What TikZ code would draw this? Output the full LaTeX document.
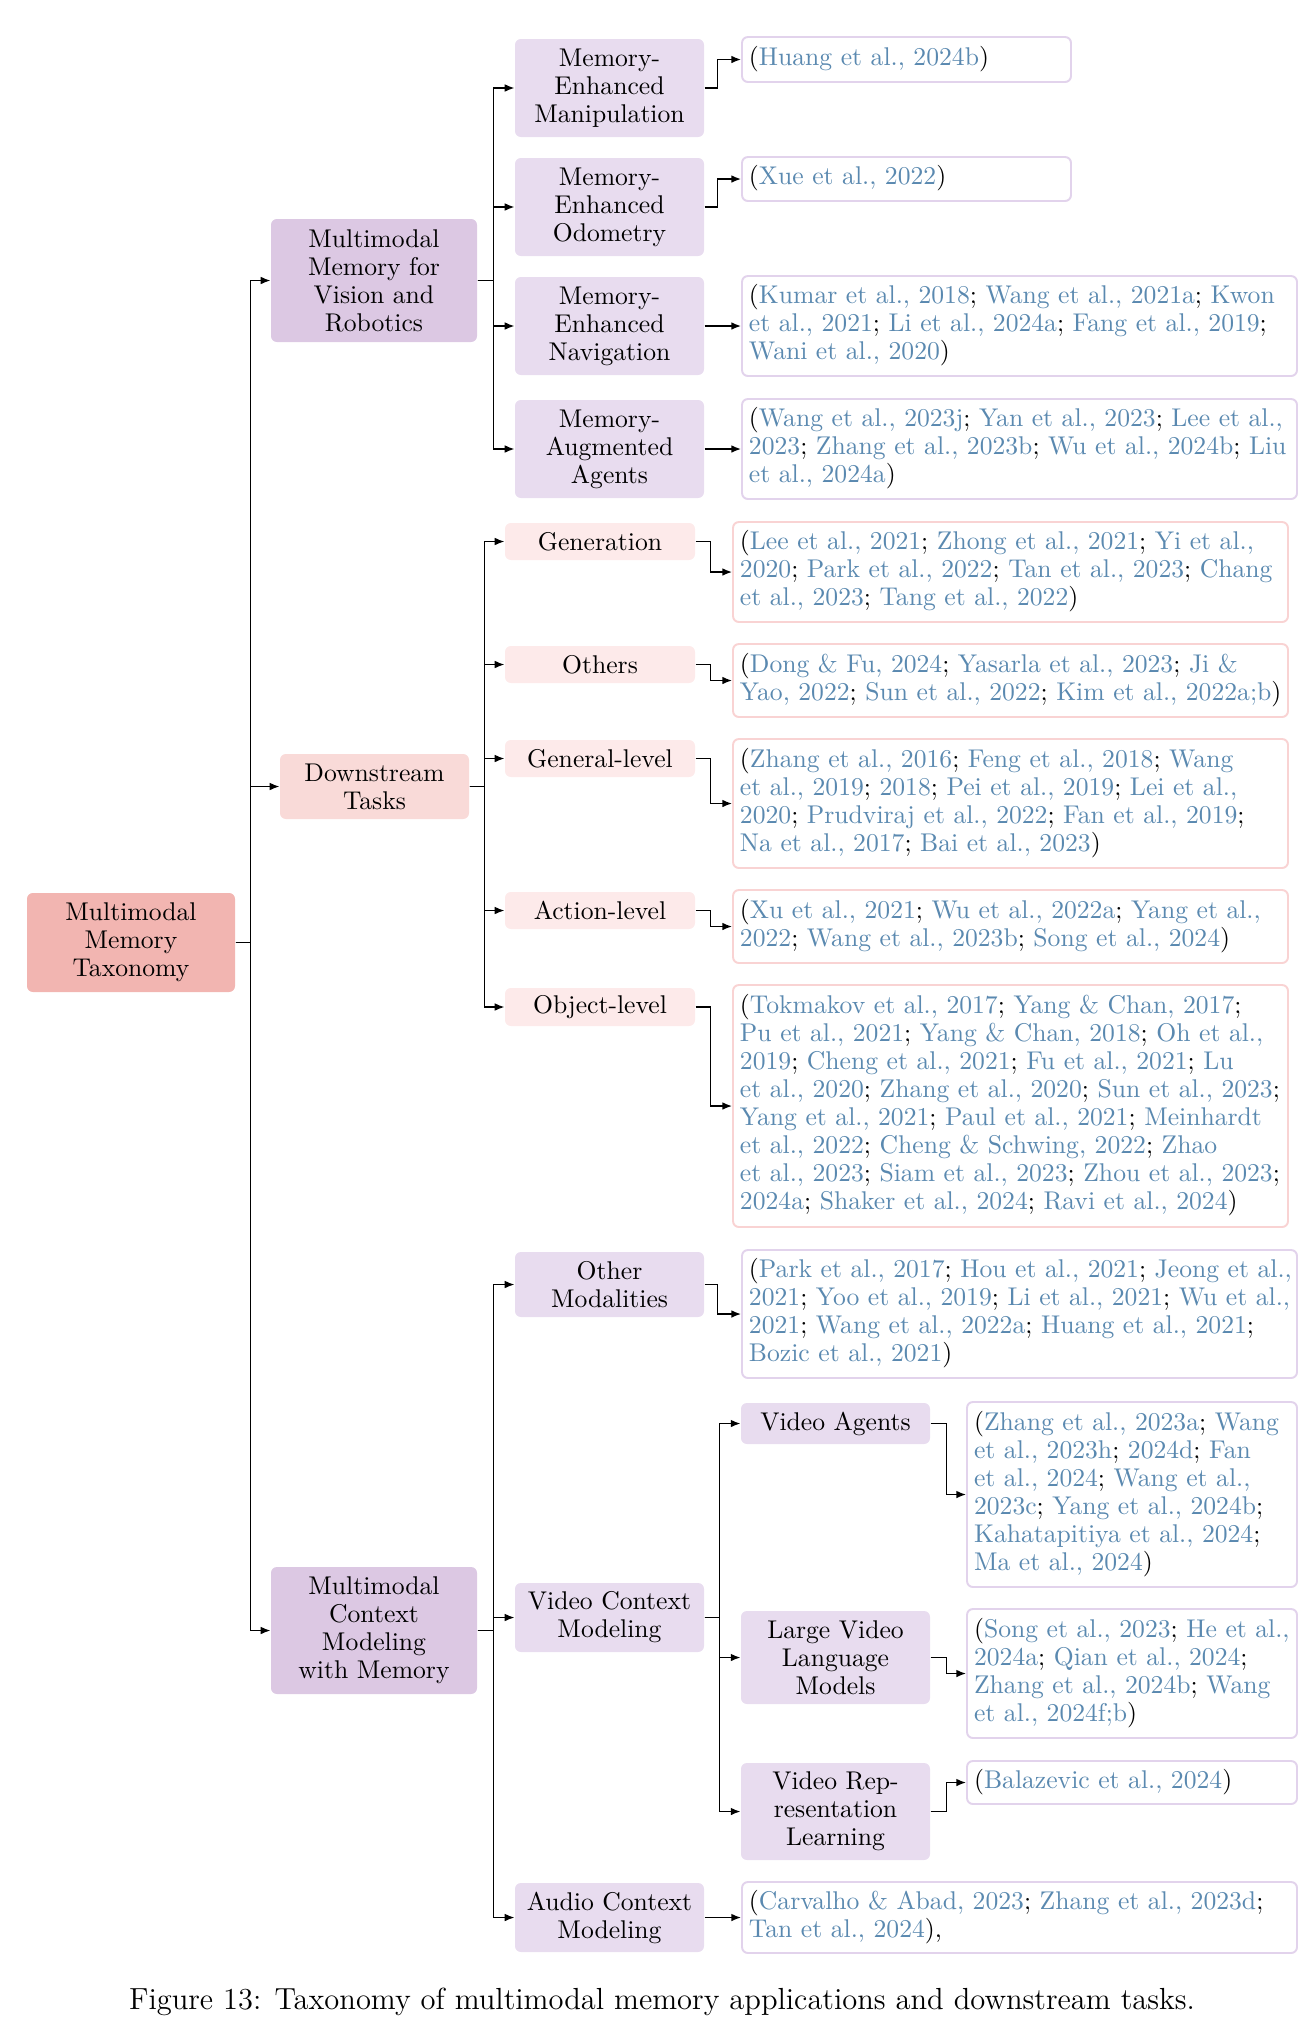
\documentclass[tikz,border=0pt]{standalone}
\usetikzlibrary{arrows.meta}
\definecolor{rootc}{HTML}{F2B5B1}
\definecolor{lonep}{HTML}{DCC8E3}
\definecolor{ltwop}{HTML}{E8DCEF}
\definecolor{loner}{HTML}{F9DAD8}
\definecolor{ltwor}{HTML}{FDEAEA}
\definecolor{refpb}{HTML}{E2D3EC}
\definecolor{refrb}{HTML}{F9D3D3}
\definecolor{citeb}{HTML}{5A89B0}
\newcommand\nodefont{\fontsize{10}{10.92}\selectfont}
\newcommand\capfont{\fontsize{11.9}{14}\selectfont}
\newcommand\cb[1]{\textcolor{citeb}{#1}}
\newcommand\rl[1]{\begin{tabular}{@{}l@{}}#1\end{tabular}}
\begin{document}
\begin{tikzpicture}[x=0.39pt,y=-0.39pt,
  bx/.style args={#1,#2,#3,#4}{minimum width={(#3-#1)*0.39pt}, minimum height={(#4-#2)*0.39pt}, at={({(#1+#3)/2},{(#2+#4)/2})}},
  base/.style={rounded corners=2.3pt, inner sep=0pt, font=\nodefont, align=center},
  rootbox/.style={base, fill=rootc},
  lonepbox/.style={base, fill=lonep},
  ltwopbox/.style={base, fill=ltwop},
  lonerbox/.style={base, fill=loner},
  ltworbox/.style={base, fill=ltwor},
  refp/.style={base, draw=refpb, line width=0.75pt, fill=white, align=left, text width=#1},
  refr/.style={base, draw=refrb, line width=0.75pt, fill=white, align=left, text width=#1},
  arr/.style={-{Latex[length=3.8pt,width=3pt]}, line width=0.55pt, black},
  capbox/.style={inner sep=0pt, font=\capfont}]
\useasboundingbox (0,0) rectangle (1316,2032);

% root and level 1
\node[rootbox, bx={27,893,235,992}] (root) {Multimodal\\Memory\\Taxonomy};
\node[lonepbox, bx={271,219,477,342}] (vis) {Multimodal\\Memory for\\Vision and\\Robotics};
\node[lonerbox, bx={280,754,469,819}] (down) {Downstream\\Tasks};
\node[lonepbox, bx={271,1567,477,1694}] (ctx) {Multimodal\\Context\\Modeling\\with Memory};

% vision branch
\node[ltwopbox, bx={515,39,704,137}] (manip) {Memory-\\Enhanced\\Manipulation};
\node[ltwopbox, bx={515,158,704,256}] (odom) {Memory-\\Enhanced\\Odometry};
\node[ltwopbox, bx={515,277,704,375}] (nav) {Memory-\\Enhanced\\Navigation};
\node[ltwopbox, bx={515,400,704,498}] (agents) {Memory-\\Augmented\\Agents};

\node[refp=122.9pt, bx={742,37,1071,82}] (huang) {\rl{(\cb{Huang et al., 2024b})}};
\node[refp=122.9pt, bx={742,157,1071,201}] (xue) {\rl{(\cb{Xue et al., 2022})}};
\node[refp=211pt, bx={742,276,1297,376}] (navr) {\rl{(\cb{Kumar et al., 2018}; \cb{Wang et al., 2021a}; \cb{Kwon}\\
\cb{et al., 2021}; \cb{Li et al., 2024a}; \cb{Fang et al., 2019};\\
\cb{Wani et al., 2020})}};
\node[refp=211pt, bx={742,399,1297,499}] (agr) {\rl{(\cb{Wang et al., 2023j}; \cb{Yan et al., 2023}; \cb{Lee et al.,}\\
\cb{2023}; \cb{Zhang et al., 2023b}; \cb{Wu et al., 2024b}; \cb{Liu}\\
\cb{et al., 2024a})}};

% downstream branch
\node[ltworbox, bx={505,523,695,560}] (gen) {Generation};
\node[ltworbox, bx={505,646,695,683}] (oth) {Others};
\node[ltworbox, bx={505,740,695,777}] (genl) {General-level};
\node[ltworbox, bx={505,892,695,929}] (act) {Action-level};
\node[ltworbox, bx={505,988,695,1026}] (obj) {Object-level};

\node[refr=211pt, bx={733,522,1288,622}] (genr) {\rl{(\cb{Lee et al., 2021}; \cb{Zhong et al., 2021}; \cb{Yi et al.,}\\
\cb{2020}; \cb{Park et al., 2022}; \cb{Tan et al., 2023}; \cb{Chang}\\
\cb{et al., 2023}; \cb{Tang et al., 2022})}};
\node[refr=211pt, bx={733,644,1288,717}] (othr) {\rl{(\cb{Dong \& Fu, 2024}; \cb{Yasarla et al., 2023}; \cb{Ji \&}\\
\cb{Yao, 2022}; \cb{Sun et al., 2022}; \cb{Kim et al., 2022a;b})}};
\node[refr=211pt, bx={733,739,1288,868}] (genlr) {\rl{(\cb{Zhang et al., 2016}; \cb{Feng et al., 2018}; \cb{Wang}\\
\cb{et al., 2019}; \cb{2018}; \cb{Pei et al., 2019}; \cb{Lei et al.,}\\
\cb{2020}; \cb{Prudviraj et al., 2022}; \cb{Fan et al., 2019};\\
\cb{Na et al., 2017}; \cb{Bai et al., 2023})}};
\node[refr=211pt, bx={733,890,1288,963}] (actr) {\rl{(\cb{Xu et al., 2021}; \cb{Wu et al., 2022a}; \cb{Yang et al.,}\\
\cb{2022}; \cb{Wang et al., 2023b}; \cb{Song et al., 2024})}};
\node[refr=211pt, bx={733,985,1288,1227}] (objr) {\rl{(\cb{Tokmakov et al., 2017}; \cb{Yang \& Chan, 2017};\\
\cb{Pu et al., 2021}; \cb{Yang \& Chan, 2018}; \cb{Oh et al.,}\\
\cb{2019}; \cb{Cheng et al., 2021}; \cb{Fu et al., 2021}; \cb{Lu}\\
\cb{et al., 2020}; \cb{Zhang et al., 2020}; \cb{Sun et al., 2023};\\
\cb{Yang et al., 2021}; \cb{Paul et al., 2021}; \cb{Meinhardt}\\
\cb{et al., 2022}; \cb{Cheng \& Schwing, 2022}; \cb{Zhao}\\
\cb{et al., 2023}; \cb{Siam et al., 2023}; \cb{Zhou et al., 2023};\\
\cb{2024a}; \cb{Shaker et al., 2024}; \cb{Ravi et al., 2024})}};

% context branch
\node[ltwopbox, bx={515,1252,704,1317}] (othm) {Other\\Modalities};
\node[ltwopbox, bx={515,1583,704,1652}] (vcm) {Video Context\\Modeling};
\node[ltwopbox, bx={515,1883,704,1952}] (acm) {Audio Context\\Modeling};

\node[refp=211pt, bx={742,1250,1297,1378}] (othmr) {\rl{(\cb{Park et al., 2017}; \cb{Hou et al., 2021}; \cb{Jeong et al.,}\\
\cb{2021}; \cb{Yoo et al., 2019}; \cb{Li et al., 2021}; \cb{Wu et al.,}\\
\cb{2021}; \cb{Wang et al., 2022a}; \cb{Huang et al., 2021};\\
\cb{Bozic et al., 2021})}};
\node[refp=211pt, bx={742,1882,1297,1953}] (acmr) {\rl{(\cb{Carvalho \& Abad, 2023}; \cb{Zhang et al., 2023d};\\
\cb{Tan et al., 2024}),}};

\node[ltwopbox, bx={741,1403,930,1444}] (vag) {Video Agents};
\node[ltwopbox, bx={741,1611,930,1704}] (lvlm) {Large Video\\Language\\Models};
\node[ltwopbox, bx={741,1763,930,1860}] (vrl) {Video Rep-\\resentation\\Learning};

\node[refp=123.2pt, bx={967,1402,1297,1587}] (vagr) {\rl{(\cb{Zhang et al., 2023a}; \cb{Wang}\\
\cb{et al., 2023h}; \cb{2024d}; \cb{Fan}\\
\cb{et al., 2024}; \cb{Wang et al.,}\\
\cb{2023c}; \cb{Yang et al., 2024b};\\
\cb{Kahatapitiya et al., 2024};\\
\cb{Ma et al., 2024})}};
\node[refp=123.2pt, bx={967,1609,1297,1738}] (lvlmr) {\rl{(\cb{Song et al., 2023}; \cb{He et al.,}\\
\cb{2024a}; \cb{Qian et al., 2024};\\
\cb{Zhang et al., 2024b}; \cb{Wang}\\
\cb{et al., 2024f;b})}};
\node[refp=123.2pt, bx={967,1761,1297,1804}] (vrlr) {\rl{(\cb{Balazevic et al., 2024})}};

% caption
\node[capbox] (cap) at (662,2002) {Figure 13: Taxonomy of multimodal memory applications and downstream tasks.};

% connectors: root
\draw[arr] (root.east) -- ++(15,0) |- (vis.west);
\draw[arr] (root.east) -- ++(15,0) |- (down.west);
\draw[arr] (root.east) -- ++(15,0) |- (ctx.west);
% vision
\foreach \c in {manip,odom,nav,agents} \draw[arr] (vis.east) -- ++(16,0) |- (\c.west);
\draw[arr] (manip.east) -- ++(13,0) |- (huang.west);
\draw[arr] (odom.east) -- ++(13,0) |- (xue.west);
\draw[arr] (nav.east) -- ++(13,0) |- (navr.west);
\draw[arr] (agents.east) -- ++(13,0) |- (agr.west);
% downstream
\foreach \c in {gen,oth,genl,act,obj} \draw[arr] (down.east) -- ++(15,0) |- (\c.west);
\draw[arr] (gen.east) -- ++(15,0) |- (genr.west);
\draw[arr] (oth.east) -- ++(15,0) |- (othr.west);
\draw[arr] (genl.east) -- ++(15,0) |- (genlr.west);
\draw[arr] (act.east) -- ++(15,0) |- (actr.west);
\draw[arr] (obj.east) -- ++(15,0) |- (objr.west);
% context
\foreach \c in {othm,vcm,acm} \draw[arr] (ctx.east) -- ++(16,0) |- (\c.west);
\draw[arr] (othm.east) -- ++(13,0) |- (othmr.west);
\draw[arr] (acm.east) -- ++(13,0) |- (acmr.west);
\foreach \c in {vag,lvlm,vrl} \draw[arr] (vcm.east) -- ++(15,0) |- (\c.west);
\draw[arr] (vag.east) -- ++(16,0) |- (vagr.west);
\draw[arr] (lvlm.east) -- ++(16,0) |- (lvlmr.west);
\draw[arr] (vrl.east) -- ++(16,0) |- (vrlr.west);
\end{tikzpicture}
\end{document}
